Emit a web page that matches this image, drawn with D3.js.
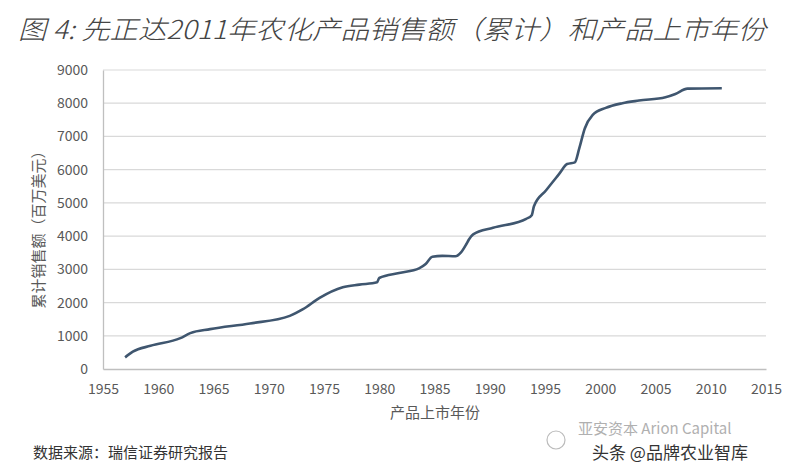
<!DOCTYPE html>
<html>
<head>
<meta charset="utf-8">
<script src="https://cdn.jsdelivr.net/npm/d3@7"></script>
<style>
  body{margin:0;background:#fff;}
  svg{display:block;}
  text{font-family:"Noto Sans CJK SC","Noto Sans",sans-serif;}
</style>
</head>
<body>
<svg id="chart" width="800" height="473"></svg>
<script>
// cumulative sales (USD mn) against product launch year
var years = [1957, 1957.7, 1959.3, 1962, 1962.9, 1964.7, 1968.3, 1971.9, 1973.1, 1974.6,
             1976.7, 1978.2, 1979.8, 1980, 1981.8, 1983.6, 1984.2, 1984.8, 1985.7, 1986.9,
             1987.4, 1987.9, 1988.1, 1988.5, 1990.3, 1993.3, 1993.8, 1994, 1995.1, 1996.3,
             1997, 1997.7, 1998.1, 1998.6, 1999.3, 2000.5, 2002, 2003.5, 2005.9, 2006.8,
             2007.9, 2011];
var sales = [350, 520, 700, 930, 1080, 1200, 1370, 1600, 1800, 2140,
             2460, 2540, 2610, 2740, 2890, 3030, 3160, 3380, 3405, 3395,
             3510, 3770, 3890, 4050, 4250, 4520, 4630, 4900, 5380, 5880,
             6170, 6220, 6640, 7240, 7640, 7860, 8000, 8080, 8180, 8280,
             8440, 8450];
var xTicks = [1955, 1960, 1965, 1970, 1975, 1980, 1985, 1990, 1995, 2000, 2005, 2010, 2015];
var yTicks = [0, 1000, 2000, 3000, 4000, 5000, 6000, 7000, 8000, 9000];

var titleText = "图 4: 先正达2011年农化产品销售额（累计）和产品上市年份";
var yTitle = "累计销售额（百万美元）";
var xTitle = "产品上市年份";
var sourceText = "数据来源：瑞信证券研究报告";

var svg = d3.select("#chart");
var plotL = 103, plotR = 766, plotT = 70, plotB = 369;

var x = d3.scaleLinear().domain([1955, 2015]).range([plotL, plotR]);
var y = d3.scaleLinear().domain([0, 9000]).range([plotB, plotT]);

// title
svg.append("text")
    .attr("x", 18).attr("y", 39)
    .attr("font-size", 26).attr("font-style", "italic").attr("font-weight", 300)
    .attr("fill", "#444")
    .attr("textLength", 748).attr("lengthAdjust", "spacingAndGlyphs")
    .text(titleText);

// gridlines
svg.append("g").selectAll("line").data(yTicks.slice(1)).enter().append("line")
    .attr("x1", plotL).attr("x2", plotR)
    .attr("y1", function(d){ return y(d); })
    .attr("y2", function(d){ return y(d); })
    .attr("stroke", "#d9d9d9").attr("stroke-width", 1.2);

// axes
var yAxis = svg.append("g").attr("transform", "translate(" + plotL + ",0)")
    .call(d3.axisLeft(y).tickValues(yTicks).tickSize(0).tickPadding(15).tickFormat(d3.format("d")));
var xAxis = svg.append("g").attr("transform", "translate(0," + plotB + ")")
    .call(d3.axisBottom(x).tickValues(xTicks).tickSize(0).tickPadding(15).tickFormat(d3.format("d")));
[yAxis, xAxis].forEach(function(a){
    a.select(".domain").attr("stroke", "#bfbfbf").attr("stroke-width", 1.3);
    a.selectAll("text").attr("font-size", 14).attr("fill", "#595959")
        .attr("font-family", "\"Liberation Sans\",\"Noto Sans\",sans-serif");
});

// line
var line = d3.line()
    .x(function(d, i){ return x(years[i]); })
    .y(function(d){ return y(d); })
    .curve(d3.curveMonotoneX);
svg.append("path").datum(sales)
    .attr("d", line)
    .attr("fill", "none")
    .attr("stroke", "#3f566f")
    .attr("stroke-width", 2.6);

// axis titles
svg.append("text")
    .attr("transform", "translate(44,226) rotate(-90)")
    .attr("text-anchor", "middle")
    .attr("font-size", 15).attr("fill", "#595959")
    .text(yTitle);
svg.append("text")
    .attr("x", 435).attr("y", 418)
    .attr("text-anchor", "middle")
    .attr("font-size", 15).attr("fill", "#595959")
    .text(xTitle);

// source
svg.append("text")
    .attr("x", 33).attr("y", 458)
    .attr("font-size", 15).attr("fill", "#333")
    .text(sourceText);

// watermark
svg.append("circle").attr("cx", 556).attr("cy", 440).attr("r", 9)
    .attr("fill", "none").attr("stroke", "#bbb").attr("stroke-width", 1.2);
svg.append("text")
    .attr("x", 578).attr("y", 434)
    .attr("font-size", 15).attr("fill", "#b0b0b0")
    .text("亚安资本 Arion Capital");
svg.append("text")
    .attr("x", 592).attr("y", 459)
    .attr("font-size", 17).attr("fill", "#333")
    .text("头条 @品牌农业智库");
</script>
</body>
</html>
